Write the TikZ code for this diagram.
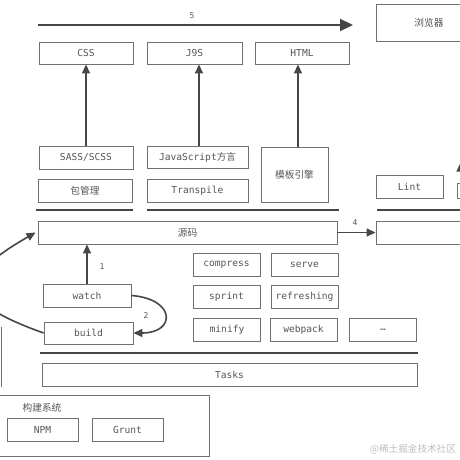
\documentclass[tikz,border=0pt]{standalone}
\usepackage{fontspec}
\setmonofont{DejaVu Sans Mono}
\newfontfamily\cjk{Noto Sans CJK SC}
\usetikzlibrary{arrows.meta,math}

\definecolor{boxline}{HTML}{707070}
\definecolor{barline}{HTML}{474747}
\definecolor{txtgray}{HTML}{555555}
\definecolor{wmgray}{HTML}{BDBDBD}

\tikzset{
  box/.style={draw=boxline, line width=0.9pt, inner sep=0pt, minimum height=23pt,
    text=txtgray, font=\fontsize{9.6}{11}\selectfont\ttfamily},
  cnbox/.style={box, font=\fontsize{9.7}{11}\selectfont\cjk},
  bar/.style={draw=barline, line width=2.2pt},
  arr/.style={draw=barline, line width=1.6pt, -{Triangle[length=9pt,width=8pt]}},
  num/.style={text=txtgray, inner sep=0pt, font=\fontsize{8}{9}\selectfont\ttfamily},
}

\begin{document}
\begin{tikzpicture}[x=1pt,y=-1pt]
  \useasboundingbox (0,0) rectangle (460,460);
  \clip (0,0) rectangle (460,460);

  % outputs
  \node[cnbox, minimum width=106pt, minimum height=37pt] (browser) at (429,22.5) {浏览器};
  \node[box, minimum width=94pt, minimum height=22pt] (css) at (86,53) {CSS};
  \node[box, minimum width=95pt, minimum height=22pt] (jss) at (194.5,53) {J9S};
  \node[box, minimum width=94pt, minimum height=22pt] (html) at (302,53) {HTML};

  \coordinate (topstart) at (38,25);
  \coordinate (topend) at (353,25);
  \draw[bar, -{Triangle[length=13pt,width=12pt]}] (topstart) -- (topend);
  \node[num] (lbl5) at (192,16) {5};

  % sources
  \node[box, minimum width=94pt] (sass) at (86,157.5) {SASS/SCSS};
  \node[box, minimum width=101pt, minimum height=22pt] (jsdialect) at (197.5,157) {JavaScript{\cjk 方言}};
  \node[cnbox, minimum width=94pt] (pkg) at (85,190.5) {包管理};
  \node[box, minimum width=101pt] (transpile) at (197.5,190.5) {Transpile};
  \node[cnbox, minimum width=67pt, minimum height=55pt] (tpl) at (294.5,174.5) {模板引擎};
  \node[box, minimum width=67pt] (lint) at (409.5,186.5) {Lint};
  \node[box, minimum width=60pt, minimum height=15pt] (lintnext) at (487,190.5) {};

  \draw[arr] (sass.north) -- (sass.north |- css.south);
  \draw[arr] ([xshift=1.5pt]jsdialect.north) -- ([xshift=1.5pt]jsdialect.north |- jss.south);
  \draw[arr] ([xshift=3.5pt]tpl.north) -- ([xshift=3.5pt]tpl.north |- html.south);
  \draw[arr] ([xshift=4pt]lintnext.north west) -- ++(0,-20);

  \foreach \xa/\xb in {36/133, 147/339, 377/470} {
    \draw[bar] (\xa,210) -- (\xb,210);
  }

  % source code
  \node[cnbox, minimum width=299pt] (src) at (187.5,232.5) {源码};
  \node[box, minimum width=100pt] (srcnext) at (426,232.5) {};
  \draw[arr] (src) -- (srcnext);
  \node[num] (lbl4) at (355,223) {4};

  % tasks
  \node[box, minimum width=88pt] (watch) at (87,295.5) {watch};
  \node[box, minimum width=89pt, minimum height=22pt] (build) at (88.5,333) {build};
  \draw[arr] (watch) -- (watch |- src.south);
  \node[num] (lbl1) at (102,267) {1};
  \draw[arr] (watch.east) .. controls (176,299) and (176,333) .. (build.east);
  \node[num] (lbl2) at (146,316) {2};
  \draw[arr] (build.west) .. controls (-40,303) and (-47,280) .. ([xshift=-2pt]src.west);

  \foreach \name/\txt/\x/\y in {compress/compress/226.5/265, serve/serve/304.5/265,
      sprint/sprint/226.5/297, refresh/refreshing/304.5/297,
      minify/minify/227/329.5, webpack/webpack/303.5/329.5, more/…/383/330} {
    \node[box, minimum width=67pt] (\name) at (\x,\y) {\txt};
  }

  \draw[bar] (40,353) -- (418,353);
  \node[box, minimum width=375pt] (tasks) at (229.5,374.5) {Tasks};
  \draw[draw=boxline, line width=0.9pt] (1,327) -- (1,387);

  % build system
  \draw[draw=boxline, line width=0.9pt] (-10,395) rectangle (209,456);
  \node[text=txtgray, inner sep=0pt, font=\fontsize{9.7}{11}\selectfont\cjk] (sysname) at (42,408) {构建系统};
  \node[box, minimum width=71pt] (npm) at (42.5,429.5) {NPM};
  \node[box, minimum width=71pt] (grunt) at (127.5,429.5) {Grunt};

  \node[text=wmgray, inner sep=0pt, font=\fontsize{9.6}{11}\selectfont\cjk] (watermark) at (413,449) {@稀土掘金技术社区};
\end{tikzpicture}
\end{document}
